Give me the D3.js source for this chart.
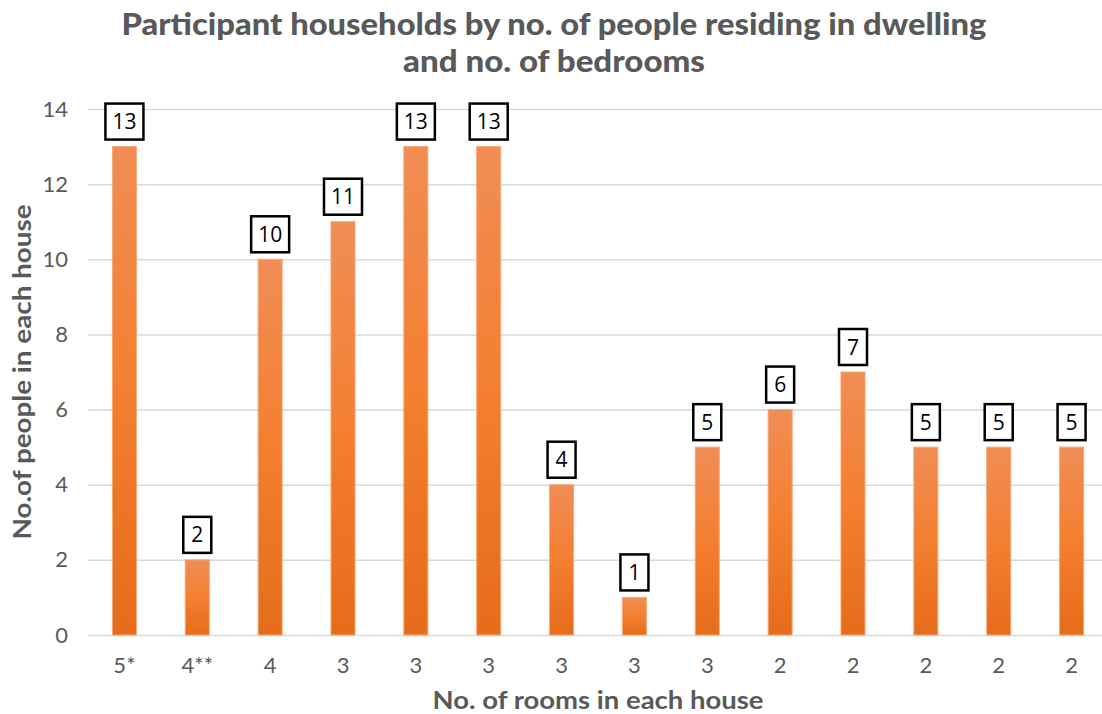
<!DOCTYPE html>
<html>
<head>
<meta charset="utf-8">
<script src="https://cdn.jsdelivr.net/npm/d3@7"></script>
<style>
  body { margin: 0; background: #fff; }
  svg { display: block; }
</style>
</head>
<body>
<svg></svg>
<script>
// chart values
let categories = ["5*", "4**", "4", "3", "3", "3", "3", "3", "3", "2", "2", "2", "2", "2"]
let values = [13, 2, 10, 11, 13, 13, 4, 1, 5, 6, 7, 5, 5, 5]
let yTicks = [0, 2, 4, 6, 8, 10, 12, 14]

let titleLines = ["Participant households by no. of people residing in dwelling", "and no. of bedrooms"]
let xTitle = "No. of rooms in each house"
let yTitle = "No.of people in each house"

let width = 1102
let height = 714
let plotLeft = 88
let plotRight = 1108
let plotTop = 109
let plotBottom = 635

let svg = d3.select('svg')
  .attr('width', width)
  .attr('height', height)

// keep each bar a separate band so repeated labels don't collapse
let xScale = d3.scaleBand()
  .domain(d3.range(categories.length))
  .range([plotLeft, plotRight])
  .paddingInner(0.67)
  .paddingOuter(0.335)

let yScale = d3.scaleLinear()
  .domain([0, 14])
  .range([plotBottom, plotTop])

let defs = svg.append('defs')
let grad = defs.append('linearGradient')
  .attr('id', 'barGrad')
  .attr('x1', 0).attr('y1', 0).attr('x2', 0).attr('y2', 1)
grad.append('stop').attr('offset', '0%').attr('stop-color', '#F08D55')
grad.append('stop').attr('offset', '50%').attr('stop-color', '#F47F30')
grad.append('stop').attr('offset', '100%').attr('stop-color', '#E56C1A')

// gridlines
let grid = svg.append('g')
  .attr('transform', 'translate(' + plotLeft + ',0)')
  .call(d3.axisLeft(yScale).tickValues(yTicks).tickSize(-(plotRight - plotLeft)).tickFormat(''))
grid.select('.domain').remove()
grid.selectAll('line').attr('stroke', '#D9D9D9').attr('stroke-width', 1.5)

// y axis labels
let yAxis = svg.append('g')
  .attr('transform', 'translate(68,0)')
  .call(d3.axisLeft(yScale).tickValues(yTicks).tickSize(0).tickPadding(0))
yAxis.select('.domain').remove()
yAxis.selectAll('text')
  .attr('fill', '#595959')
  .style('font-family', 'Lato, sans-serif')
  .style('font-size', '22px')

// x axis labels
let xAxis = svg.append('g')
  .attr('transform', 'translate(0,' + plotBottom + ')')
  .call(d3.axisBottom(xScale).tickSize(0).tickPadding(0).tickFormat((i) => categories[i]))
xAxis.select('.domain').remove()
xAxis.selectAll('text')
  .attr('y', 38)
  .attr('dy', 0)
  .attr('fill', '#595959')
  .style('font-family', 'Lato, sans-serif')
  .style('font-size', '22px')

// bars
svg.selectAll('rect.bar')
  .data(values)
  .enter()
  .append('rect')
  .attr('class', 'bar')
  .attr('x', (d, i) => xScale(i))
  .attr('y', (d) => yScale(d))
  .attr('width', xScale.bandwidth())
  .attr('height', (d) => plotBottom - yScale(d))
  .attr('fill', 'url(#barGrad)')
  .attr('stroke', '#F6A878')
  .attr('stroke-width', 1)

// data labels in boxes
let labels = svg.selectAll('g.lbl')
  .data(values)
  .enter()
  .append('g')
  .attr('class', 'lbl')
  .attr('transform', (d, i) => 'translate(' + (xScale(i) + xScale.bandwidth() / 2) + ',' + (yScale(d) - 25) + ')')

labels.append('rect')
  .attr('x', (d) => String(d).length > 1 ? -19 : -14)
  .attr('y', -18)
  .attr('width', (d) => String(d).length > 1 ? 38 : 28)
  .attr('height', 36)
  .attr('fill', '#fff')
  .attr('stroke', '#000')
  .attr('stroke-width', 2.5)

labels.append('text')
  .attr('text-anchor', 'middle')
  .attr('dy', '0.36em')
  .attr('fill', '#000')
  .style('font-family', '"Open Sans", sans-serif')
  .style('font-size', '21px')
  .text((d) => d)

// titles
let titleWidths = [865, 302]
svg.selectAll('text.title')
  .data(titleLines)
  .enter()
  .append('text')
  .attr('class', 'title')
  .attr('x', 554)
  .attr('y', (d, i) => 35 + i * 37)
  .attr('text-anchor', 'middle')
  .attr('textLength', (d, i) => titleWidths[i])
  .attr('lengthAdjust', 'spacingAndGlyphs')
  .attr('fill', '#595959')
  .style('font-family', 'Lato, sans-serif')
  .style('font-weight', '900')
  .style('font-size', '30px')
  .text((d) => d)

svg.append('text')
  .attr('x', 598)
  .attr('y', 709)
  .attr('text-anchor', 'middle')
  .attr('textLength', 331)
  .attr('lengthAdjust', 'spacingAndGlyphs')
  .attr('fill', '#595959')
  .style('font-family', 'Lato, sans-serif')
  .style('font-weight', 'bold')
  .style('font-size', '25px')
  .text(xTitle)

svg.append('text')
  .attr('transform', 'translate(31,372) rotate(-90)')
  .attr('text-anchor', 'middle')
  .attr('textLength', 335)
  .attr('lengthAdjust', 'spacingAndGlyphs')
  .attr('fill', '#595959')
  .style('font-family', 'Lato, sans-serif')
  .style('font-weight', 'bold')
  .style('font-size', '25px')
  .text(yTitle)
</script>
</body>
</html>
